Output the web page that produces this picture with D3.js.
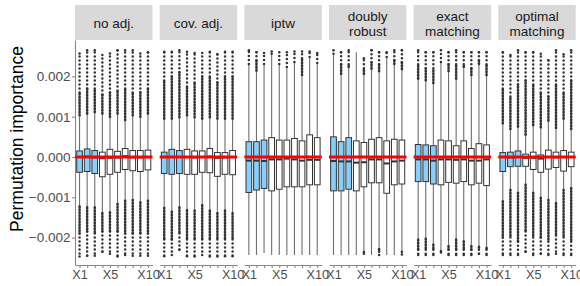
<!DOCTYPE html>
<html><head><meta charset="utf-8">
<script src="https://cdn.jsdelivr.net/npm/d3@7"></script>
<style>body{margin:0;background:#fff}svg{display:block}</style>
</head><body>
<svg id="c" width="580" height="286"></svg>
<script>
// ---------- data (values in units of 1e-3) ----------
const facets = ["no adj.", "cov. adj.", "iptw", "doubly\nrobust", "exact\nmatching", "optimal\nmatching"];
const categories = ["X1","X2","X3","X4","X5","X6","X7","X8","X9","X10"];
const xTickLabels = ["X1","X5","X10"];
const yTicks = [-2, -1, 0, 1, 2];
const highlighted = ["X1","X2","X3"];

const q3 = [
  [.15,.20,.16,.12,.19,.14,.21,.16,.16,.17],
  [.12,.19,.16,.19,.15,.15,.21,.11,.11,.16],
  [.38,.38,.42,.48,.42,.42,.46,.40,.55,.48],
  [.50,.38,.48,.40,.36,.44,.48,.40,.44,.42],
  [.31,.30,.28,.42,.40,.28,.40,.21,.33,.30],
  [.11,.12,.15,.07,.12,.05,.17,.12,.16,.12]];
const median = [
  [0,.01,-.01,-.03,-.02,-.01,.02,-.01,-.01,0],
  [0,0,0,0,-.01,0,.01,-.02,-.01,0],
  [-.09,-.09,-.10,-.06,-.06,-.04,-.06,-.09,-.07,-.07],
  [-.10,-.11,-.11,-.14,-.13,-.06,-.06,-.16,-.11,-.09],
  [-.06,-.06,-.09,-.06,-.06,-.07,-.06,-.09,-.09,-.06],
  [0,-.01,0,-.02,-.02,-.04,0,-.01,0,0]];
const q1 = [
  [-.38,-.36,-.41,-.49,-.43,-.38,-.31,-.34,-.36,-.32],
  [-.41,-.43,-.41,-.43,-.43,-.38,-.39,-.48,-.43,-.44],
  [-.88,-.82,-.78,-.84,-.80,-.74,-.74,-.74,-.69,-.69],
  [-.84,-.84,-.80,-.84,-.74,-.64,-.64,-.90,-.69,-.67],
  [-.61,-.61,-.67,-.69,-.63,-.65,-.61,-.69,-.65,-.71],
  [-.36,-.24,-.23,-.23,-.31,-.38,-.30,-.26,-.35,-.24]];
const whiskerHi = [
  [1.00,1.04,1.08,1.04,.96,1.04,.88,1.00,.96,1.04],
  [.92,.92,.95,1.00,.95,.92,.95,.92,.92,.92],
  [2.28,2.11,2.28,2.53,2.28,2.20,2.33,2.00,2.45,2.30],
  [2.53,2.03,2.20,2.60,2.03,2.16,2.10,2.45,2.28,2.15],
  [1.91,1.87,1.80,2.33,2.10,1.91,2.20,2.00,2.28,2.00],
  [.80,.66,.72,.52,.76,.70,.87,.69,.92,.66]];
const whiskerLo = [
  [-1.19,-1.22,-1.22,-1.36,-1.34,-1.13,-1.05,-1.03,-1.09,-1.05],
  [-1.23,-1.32,-1.22,-1.29,-1.30,-1.16,-1.30,-1.36,-1.30,-1.36],
  [-2.43,-2.43,-2.38,-2.43,-2.43,-2.43,-2.43,-2.43,-2.43,-2.43],
  [-2.43,-2.43,-2.43,-2.43,-2.33,-2.43,-2.25,-2.43,-2.43,-2.33],
  [-2.02,-1.99,-2.14,-2.30,-2.18,-2.02,-2.06,-2.18,-2.20,-2.22],
  [-1.07,-.78,-.86,-.65,-.86,-.98,-1.03,-1.11,-.78,-.74]];
// outliers: dense run from the whisker end to *Dense, then sparse points out to *Max / *Min
const outHiDense = [
  [1.60,1.70,1.70,1.55,1.60,1.65,1.70,1.60,1.60,1.70],
  [1.90,2.00,2.10,1.75,1.85,2.00,2.00,1.85,2.00,2.00],
  [2.28,2.40,2.28,2.53,2.28,2.20,2.33,2.45,2.45,2.30],
  [2.53,2.30,2.30,2.60,2.20,2.35,2.30,2.45,2.40,2.35],
  [2.30,2.20,2.20,2.33,2.30,2.30,2.30,2.20,2.40,2.30],
  [1.70,1.50,1.80,1.90,1.80,1.60,1.50,1.80,1.60,1.90]];
const outHiMax = [
  [2.57,2.65,2.65,2.53,2.57,2.65,2.65,2.65,2.57,2.60],
  [2.61,2.61,2.65,2.61,2.58,2.58,2.61,2.55,2.61,2.61],
  [2.65,2.60,2.58,2.62,2.60,2.60,2.62,2.62,2.62,2.58],
  [2.65,2.60,2.65,2.60,2.45,2.65,2.60,2.60,2.65,2.65],
  [2.65,2.60,2.60,2.65,2.60,2.65,2.60,2.60,2.60,2.60],
  [2.60,2.53,2.65,2.60,2.60,2.56,2.40,2.65,2.55,2.65]];
const outLoDense = [
  [-1.90,-1.85,-1.90,-1.85,-1.85,-1.85,-1.90,-1.90,-1.90,-1.90],
  [-2.05,-2.05,-1.90,-2.05,-2.05,-2.05,-2.05,-2.05,-2.05,-2.05],
  [-2.43,-2.43,-2.38,-2.43,-2.43,-2.43,-2.43,-2.43,-2.43,-2.43],
  [-2.43,-2.43,-2.43,-2.43,-2.36,-2.43,-2.35,-2.43,-2.43,-2.36],
  [-2.30,-2.30,-2.30,-2.33,-2.30,-2.30,-2.30,-2.30,-2.30,-2.30],
  [-2.00,-2.00,-2.10,-1.85,-2.00,-2.00,-2.10,-1.95,-2.00,-2.10]];
const outLoMin = [
  [-2.47,-2.45,-2.45,-2.35,-2.40,-2.47,-2.43,-2.45,-2.45,-2.45],
  [-2.46,-2.43,-2.30,-2.46,-2.47,-2.43,-2.47,-2.47,-2.46,-2.46],
  [-2.43,-2.43,-2.38,-2.43,-2.43,-2.43,-2.43,-2.43,-2.43,-2.43],
  [-2.43,-2.43,-2.43,-2.43,-2.40,-2.43,-2.43,-2.43,-2.43,-2.42],
  [-2.43,-2.43,-2.43,-2.37,-2.43,-2.43,-2.43,-2.43,-2.40,-2.43],
  [-2.43,-2.43,-2.43,-2.35,-2.43,-2.40,-2.43,-2.40,-2.43,-2.43]];
const refValue = 0;

// ---------- layout ----------
const svg = d3.select("#c");
const font = "'Liberation Sans', Arial, Helvetica, sans-serif";
const left0 = 75, pStep = 84.65, pw = 77.5;
const plotTop = 40, plotBottom = 265, stripTop = 5;
const axisCol = "#888", textCol = "#4d4d4d";

const y = d3.scaleLinear().domain([-2.68, 2.903]).range([plotBottom, plotTop]);
const x = d3.scalePoint().domain(categories).range([0, pw]).padding(0.6);
const bw = x.step() * 0.75;

// y title
svg.append("text")
  .attr("transform", `translate(23,139) rotate(-90)`)
  .attr("text-anchor", "middle")
  .style("font-family", font).style("font-size", "17.5px").attr("fill", "#000")
  .text("Permutation importance");

// y axis
const yAxis = svg.append("g").attr("transform", `translate(${left0},0)`)
  .call(d3.axisLeft(y).tickValues(yTicks).tickSize(3).tickPadding(1.5).tickSizeOuter(0)
    .tickFormat(d => d3.format(".3f")(d * 1e-3)));
yAxis.select(".domain").attr("stroke", axisCol).attr("stroke-width", 1.1);
yAxis.selectAll(".tick line").attr("stroke", axisCol).attr("stroke-width", 1.1);
yAxis.selectAll(".tick text").attr("fill", textCol).style("font-family", font).style("font-size", "13.5px");

facets.forEach((f, p) => {
  const g = svg.append("g").attr("transform", `translate(${left0 + p * pStep},0)`);
  g.append("rect").attr("x", 0).attr("y", stripTop).attr("width", pw).attr("height", plotTop - stripTop)
    .attr("fill", "#d9d9d9");
  const lines = f.split("\n");
  const st = g.append("text").attr("text-anchor", "middle")
    .style("font-family", font).style("font-size", "13.5px").attr("fill", "#1a1a1a");
  lines.forEach((ln, k) => {
    const yy = lines.length === 1 ? 28 : 20.5 + k * 15;
    st.append("tspan").attr("x", pw / 2).attr("y", yy).text(ln);
  });

  const xa = g.append("g").attr("transform", `translate(0,${plotBottom})`)
    .call(d3.axisBottom(x).tickSize(3).tickPadding(2).tickSizeOuter(0)
      .tickFormat(d => xTickLabels.includes(d) ? d : ""));
  xa.select(".domain").attr("stroke", axisCol).attr("stroke-width", 1.1);
  xa.selectAll(".tick line").attr("stroke", axisCol).attr("stroke-width", 1.1);
  xa.selectAll(".tick text").attr("fill", textCol).style("font-family", font).style("font-size", "12.6px");

  const rows = categories.map((c, i) => ({
    c, i, q1: q1[p][i], med: median[p][i], q3: q3[p][i],
    wlo: whiskerLo[p][i], whi: whiskerHi[p][i],
    hd: outHiDense[p][i], hm: outHiMax[p][i], ld: outLoDense[p][i], lm: outLoMin[p][i]
  }));

  const marks = g.append("g");
  rows.forEach(r => {
    const cx = x(r.c);
    marks.append("line").attr("x1", cx).attr("x2", cx).attr("y1", y(r.q3)).attr("y2", y(r.whi))
      .attr("stroke", "#6e6e6e").attr("stroke-width", 1.1);
    marks.append("line").attr("x1", cx).attr("x2", cx).attr("y1", y(r.q1)).attr("y2", y(r.wlo))
      .attr("stroke", "#6e6e6e").attr("stroke-width", 1.1);
    const seg = (a, b, dash) => {
      if (Math.abs(b - a) < 1e-9) return;
      const l = marks.append("line").attr("x1", cx).attr("x2", cx).attr("y1", y(a)).attr("y2", y(b))
        .attr("stroke", "#333").attr("stroke-width", 2.5).attr("stroke-linecap", "round");
      if (dash) l.attr("stroke-dasharray", dash);
    };
    const pt = v => marks.append("circle").attr("cx", cx).attr("cy", y(v)).attr("r", 1.25).attr("fill", "#333");
    if (r.hm > r.whi + 1e-9) {
      if (r.hd > r.whi + 1e-9) seg(r.whi + 0.03, r.hd, "1 2");
      seg(Math.max(r.hd, r.whi + 0.03), r.hm, "0 4");
      pt(r.hm);
    }
    if (r.lm < r.wlo - 1e-9) {
      if (r.ld < r.wlo - 1e-9) seg(r.wlo - 0.03, r.ld, "1 2");
      seg(Math.min(r.ld, r.wlo - 0.03), r.lm, "0 4");
      pt(r.lm);
    }
    marks.append("rect").attr("x", cx - bw / 2).attr("width", bw)
      .attr("y", y(r.q3)).attr("height", y(r.q1) - y(r.q3))
      .attr("fill", highlighted.includes(r.c) ? "#87CEFA" : "#ffffff")
      .attr("stroke", "#333").attr("stroke-width", 1);
    marks.append("line").attr("x1", cx - bw / 2).attr("x2", cx + bw / 2)
      .attr("y1", y(r.med)).attr("y2", y(r.med)).attr("stroke", "#333").attr("stroke-width", 2);
  });

  g.append("line").attr("x1", 0).attr("x2", pw).attr("y1", y(refValue)).attr("y2", y(refValue))
    .attr("stroke", "#ff0000").attr("stroke-width", 3);
});
</script>
</body></html>
